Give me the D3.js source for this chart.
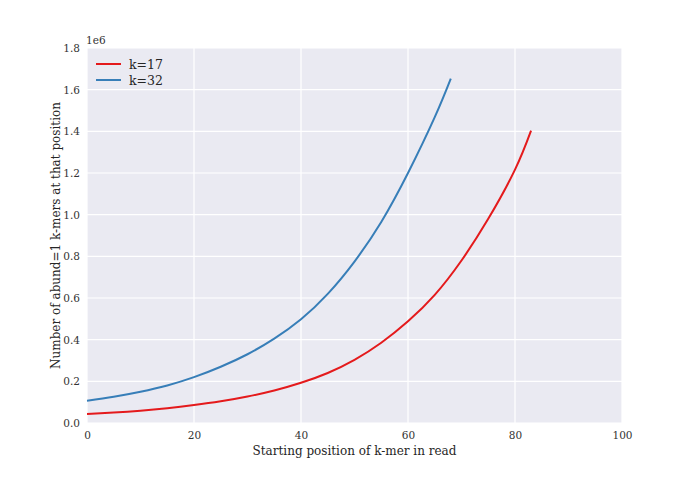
<!DOCTYPE html>
<html><head><meta charset="utf-8">
<script src="https://cdn.jsdelivr.net/npm/d3@7"></script>
<style>body{margin:0;background:#fff;} text{font-family:"DejaVu Serif",serif;}</style>
</head><body>
<svg id="c" width="692" height="485"></svg>
<script>
const seriesNames = ["k=17", "k=32"];
const seriesColors = ["#e41a1c", "#377eb8"];
const posK17 = [0,5,10,15,20,25,30,35,40,45,50,55,60,65,70,75,80,83];
const valK17 = [0.043,0.050,0.059,0.071,0.086,0.104,0.127,0.156,0.193,0.240,0.303,0.385,0.488,0.615,0.780,0.980,1.216,1.403];
const posK32 = [0,5,10,15,20,25,30,35,40,45,50,55,60,65,68];
const valK32 = [0.107,0.126,0.150,0.180,0.220,0.270,0.330,0.405,0.498,0.620,0.775,0.965,1.200,1.468,1.653];
const xTicks = [0,20,40,60,80,100];
const yTicks = [0,0.2,0.4,0.6,0.8,1.0,1.2,1.4,1.6,1.8];

const svg = d3.select("#c");
const L=87, R=622, T=48, B=423;
const x = d3.scaleLinear().domain([0,100]).range([L,R]);
const y = d3.scaleLinear().domain([0,1.8]).range([B,T]);

svg.append("rect").attr("x",L).attr("y",T).attr("width",R-L).attr("height",B-T).attr("fill","#eaeaf2");
const g = svg.append("g");
g.selectAll(".vg").data(xTicks).enter().append("line")
  .attr("x1",d=>x(d)).attr("x2",d=>x(d)).attr("y1",T).attr("y2",B)
  .attr("stroke","#fff").attr("stroke-width",1.2);
g.selectAll(".hg").data(yTicks).enter().append("line")
  .attr("y1",d=>y(d)).attr("y2",d=>y(d)).attr("x1",L).attr("x2",R)
  .attr("stroke","#fff").attr("stroke-width",1.2);

const xAxis = svg.append("g").attr("transform",`translate(0,${B})`)
  .call(d3.axisBottom(x).tickValues(xTicks).tickSize(0).tickPadding(9).tickFormat(d3.format("d")));
const yAxis = svg.append("g").attr("transform",`translate(${L},0)`)
  .call(d3.axisLeft(y).tickValues(yTicks).tickSize(0).tickPadding(7).tickFormat(d3.format(".1f")));
[xAxis,yAxis].forEach(a=>{a.select(".domain").remove();
  a.selectAll("text").attr("font-family","DejaVu Serif, serif").attr("font-size",10.5).attr("fill","#333");});

svg.append("text").attr("x",L-1).attr("y",T-4).attr("font-size",10.5).attr("fill","#333").text("1e6");

const series = [
  {name:seriesNames[0], color:seriesColors[0], pts:posK17.map((p,i)=>[p,valK17[i]])},
  {name:seriesNames[1], color:seriesColors[1], pts:posK32.map((p,i)=>[p,valK32[i]])}
];
const line = d3.line().x(d=>x(d[0])).y(d=>y(d[1])).curve(d3.curveNatural);
series.forEach(s=>{
  svg.append("path").attr("d",line(s.pts)).attr("fill","none").attr("stroke",s.color).attr("stroke-width",2);
});

const lg = svg.append("g");
series.forEach((s,i)=>{
  const yy = 64 + i*16;
  lg.append("line").attr("x1",96).attr("x2",121).attr("y1",yy).attr("y2",yy).attr("stroke",s.color).attr("stroke-width",2);
  lg.append("text").attr("x",129).attr("y",yy+4.5).attr("font-size",12.5).attr("fill","#262626").text(s.name);
});

svg.append("text").attr("x",(L+R)/2).attr("y",455).attr("text-anchor","middle")
  .attr("font-size",12).attr("fill","#262626").text("Starting position of k-mer in read");
svg.append("text").attr("transform",`translate(60,${(T+B)/2}) rotate(-90)`).attr("text-anchor","middle")
  .attr("font-size",12).attr("fill","#262626").text("Number of abund=1 k-mers at that position");
</script>
</body></html>
